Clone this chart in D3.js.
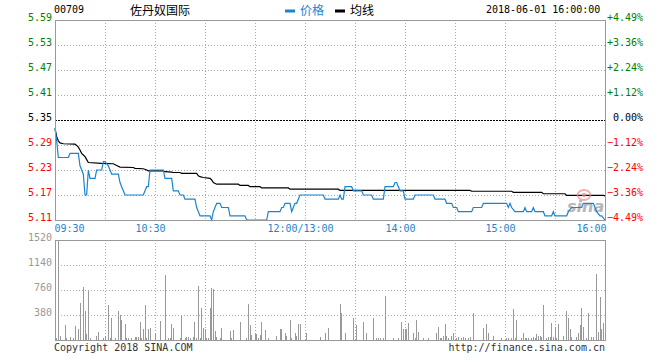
<!DOCTYPE html>
<html><head><meta charset="utf-8">
<script src="https://cdn.jsdelivr.net/npm/d3@7/dist/d3.min.js"></script>
<style>
html,body{margin:0;padding:0;background:#fff;}
svg{display:block;}
text{font-family:"DejaVu Sans Mono",monospace;font-size:10px;}
.cjk{font-family:"Noto Sans CJK SC",sans-serif;font-size:12px;}
</style></head>
<body>
<svg id="c" width="660" height="360"></svg>
<script>
// ---------- data ----------
const stockCode = "00709";
const stockName = "佐丹奴国际";
const stamp = "2018-06-01 16:00:00";
const preClose = 5.35;
const priceTicks = [5.59,5.53,5.47,5.41,5.35,5.29,5.23,5.17,5.11];
const volTicks = [1520,1140,760,380];
const timeTicks = [0,60,150,210,270,330];
const timeLabels = ["09:30","10:30","12:00/13:00","14:00","15:00","16:00"];
const gridMinutes = [30,60,90,120,150,180,210,240,270,300];

// price line (minute index, price)
const priceMin = [0,1,2,8,9,14,15,16,17,18,19,20,21,24,25,28,29,30,32,33,34,38,39,40,41,42,53,54,55,56,57,65,66,70,71,74,75,77,78,84,85,86,87,93,94,95,97,99,100,104,105,114,115,127,128,135,136,137,138,141,142,143,144,145,146,147,161,162,170,171,172,173,174,178,179,184,185,190,191,197,198,203,204,205,206,207,209,210,215,216,227,228,234,235,238,239,241,242,250,251,256,257,271,272,273,274,276,281,282,283,286,287,288,293,294,298,299,300,307,308,310,316,317,323,324,325,327,328,330];
const priceVal = [5.33,5.30,5.26,5.26,5.27,5.27,5.24,5.23,5.22,5.17,5.17,5.23,5.21,5.21,5.23,5.23,5.25,5.25,5.24,5.23,5.22,5.22,5.20,5.19,5.18,5.17,5.17,5.18,5.19,5.19,5.23,5.23,5.21,5.21,5.18,5.18,5.17,5.17,5.16,5.16,5.14,5.13,5.12,5.12,5.11,5.13,5.15,5.15,5.14,5.14,5.12,5.12,5.11,5.11,5.13,5.13,5.14,5.14,5.15,5.15,5.13,5.14,5.15,5.15,5.16,5.17,5.17,5.16,5.16,5.17,5.16,5.16,5.19,5.19,5.18,5.18,5.17,5.17,5.16,5.16,5.19,5.19,5.20,5.20,5.19,5.18,5.18,5.16,5.16,5.17,5.17,5.16,5.16,5.15,5.15,5.14,5.14,5.13,5.13,5.14,5.14,5.15,5.15,5.14,5.15,5.14,5.13,5.13,5.14,5.13,5.13,5.14,5.13,5.13,5.12,5.12,5.13,5.12,5.12,5.13,5.14,5.14,5.15,5.15,5.14,5.13,5.12,5.12,5.11];

// average line (minute index, price)
const avgMin = [0,1,2,3,5,12,13,14,15,16,17,18,19,20,28,35,37,39,47,48,53,55,56,65,66,70,71,75,76,85,86,87,89,93,94,95,97,110,111,116,117,123,124,140,141,170,171,249,250,274,275,292,293,306,307,329,330];
const avgVal = [5.33,5.31,5.30,5.295,5.293,5.292,5.289,5.285,5.278,5.270,5.266,5.262,5.255,5.248,5.246,5.245,5.241,5.237,5.236,5.234,5.233,5.230,5.228,5.228,5.226,5.225,5.224,5.224,5.222,5.222,5.216,5.214,5.212,5.210,5.206,5.200,5.196,5.196,5.193,5.193,5.190,5.190,5.187,5.187,5.184,5.184,5.181,5.181,5.179,5.179,5.1765,5.1765,5.173,5.173,5.169,5.169,5.168];

// volume (minute index, volume)
const volMin = [1,2,3,6,7,9,11,12,14,15,17,18,19,20,21,25,26,29,30,32,33,34,36,38,39,40,42,43,44,46,48,49,50,51,52,53,54,55,56,57,60,63,66,68,69,70,71,75,76,78,79,80,81,83,84,85,86,87,88,89,90,91,92,93,94,95,96,97,99,100,105,106,107,111,115,116,117,118,120,121,122,123,124,126,128,133,135,136,138,139,141,142,144,145,146,147,151,159,162,164,171,172,174,179,181,185,187,191,193,194,195,197,198,203,206,208,209,210,211,212,215,216,217,218,221,224,229,230,231,232,233,234,235,236,238,239,241,242,244,245,246,248,249,251,257,259,260,263,268,271,272,274,275,276,277,280,281,282,283,284,286,287,288,289,290,291,292,293,295,296,297,298,299,300,301,302,305,307,308,309,310,313,314,315,316,317,319,320,322,323,325,326,327,328,329,330];
const volVal = [30,1510,60,228,25,40,25,210,170,560,810,440,91,760,25,60,120,25,60,532,25,335,25,445,375,304,243,25,25,25,40,40,45,270,30,167,527,25,167,180,91,289,988,25,25,243,182,25,365,30,40,40,25,40,279,30,821,30,481,177,167,25,30,491,790,770,130,40,30,185,130,25,150,274,30,550,230,70,91,91,30,80,274,150,25,60,160,170,106,60,304,30,106,60,243,243,106,45,106,182,547,410,106,340,228,274,106,340,30,30,30,30,669,30,30,274,172,172,172,263,106,30,304,122,30,30,106,203,30,30,60,243,60,30,60,106,30,50,30,50,30,30,50,410,182,243,106,60,30,30,30,30,471,30,304,30,106,30,30,30,30,45,30,91,60,60,45,532,30,45,45,263,45,203,30,243,60,440,340,167,50,45,106,228,486,203,30,410,45,45,1003,122,654,172,263,440];

// ---------- drawing ----------
const svg = d3.select("#c");
const L = 55, R = 605, PT = 20, PB = 220, VT = 240, VB = 340;
const BLUE = "#1b84d0", GREEN = "#008000", RED = "#ff0000", GRAY = "#999";

const x = d3.scaleLinear().domain([0,330]).range([L,R]);
const y = d3.scaleLinear().domain([5.11,5.59]).range([PB,PT]);
const yv = d3.scaleLinear().domain([0,1520]).range([VB,VT]);

const colorFor = v => Math.abs(v-preClose) < 1e-9 ? "#000" : (v > preClose ? GREEN : RED);

// grid
const g = svg.append("g").attr("shape-rendering","crispEdges");
priceTicks.filter(v => v !== preClose && v !== 5.59 && v !== 5.11).forEach(v => {
  g.append("line").attr("x1",L).attr("x2",R).attr("y1",Math.round(y(v))+0.5).attr("y2",Math.round(y(v))+0.5)
    .attr("stroke","#aaa").attr("stroke-dasharray","1,2");
});
gridMinutes.forEach(m => {
  const xx = Math.round(x(m))+0.5;
  g.append("line").attr("x1",xx).attr("x2",xx).attr("y1",PT).attr("y2",PB).attr("stroke","#aaa").attr("stroke-dasharray","1,2");
  g.append("line").attr("x1",xx).attr("x2",xx).attr("y1",VT).attr("y2",VB).attr("stroke","#aaa").attr("stroke-dasharray","1,2");
});
volTicks.filter(v => v !== 1520).forEach(v => {
  g.append("line").attr("x1",L).attr("x2",R).attr("y1",Math.round(yv(v))+0.5).attr("y2",Math.round(yv(v))+0.5)
    .attr("stroke","#aaa").attr("stroke-dasharray","1,2");
});
g.append("line").attr("x1",L).attr("x2",R).attr("y1",Math.round(y(preClose))+0.5).attr("y2",Math.round(y(preClose))+0.5)
  .attr("stroke","#000").attr("stroke-dasharray","2,1");

// volume bars
const vols = volMin.map((m,i) => ({m, v: volVal[i]}));
svg.append("g").attr("shape-rendering","crispEdges").selectAll("rect").data(vols).enter().append("rect")
  .attr("x", d => Math.floor(x(d.m)))
  .attr("width", 1)
  .attr("y", d => yv(d.v))
  .attr("height", d => VB - yv(d.v))
  .attr("fill", GRAY);

// lines
const avg = avgMin.map((m,i) => ({m, p: avgVal[i]}));
const price = priceMin.map((m,i) => ({m, p: priceVal[i]}));
const line = d3.line().x(d => x(d.m)).y(d => y(d.p));
svg.append("path").datum(avg).attr("d",line).attr("fill","none").attr("stroke","#000").attr("stroke-width",1.2);

// watermark
const wm = svg.append("g").attr("opacity",0.7);
wm.append("ellipse").attr("cx",584).attr("cy",195).attr("rx",6.5).attr("ry",5).attr("fill","none").attr("stroke","#f08a8a").attr("stroke-width",1.8);
wm.append("circle").attr("cx",584).attr("cy",195).attr("r",2.2).attr("fill","#f08a8a");
wm.append("text").attr("x",567).attr("y",212)
  .style("font-family","'DejaVu Sans',sans-serif").style("font-size","16px")
  .style("font-style","italic").style("font-weight","bold").style("fill","#999").text("sina");

svg.append("path").datum(price).attr("d",line).attr("fill","none").attr("stroke",BLUE).attr("stroke-width",1.2);

// frames
const f = svg.append("g").attr("shape-rendering","crispEdges").attr("fill","none").attr("stroke",GRAY);
f.append("path").attr("d",`M${L+0.5},${PB+0.5}V${PT+0.5}H${R+0.5}V${PB+0.5}`);
f.append("line").attr("x1",L).attr("x2",R+1).attr("y1",PB+0.5).attr("y2",PB+0.5).attr("stroke-width",1.5);
f.append("rect").attr("x",L+0.5).attr("y",VT+0.5).attr("width",R-L).attr("height",VB-VT);

// axes
const ax = svg.append("g").attr("transform",`translate(${L},0)`)
  .call(d3.axisLeft(y).tickValues(priceTicks).tickSize(0).tickPadding(3).tickFormat(d3.format(".2f")));
ax.select(".domain").remove();
ax.selectAll("text").attr("dy","0.5").attr("fill", d => colorFor(d));

const pctFmt = d => { const p = (d - preClose)/preClose*100; return (Math.abs(p)<1e-9 ? "" : (p>0?"+":"")) + d3.format(".2f")(p) + "%"; };
const ar = svg.append("g").attr("transform",`translate(${R},0)`)
  .call(d3.axisRight(y).tickValues(priceTicks).tickSize(0).tickFormat(pctFmt));
ar.select(".domain").remove();
ar.selectAll("text").attr("dy","0.5").attr("x",38).attr("text-anchor","end").attr("fill", d => colorFor(d));

const av = svg.append("g").attr("transform",`translate(${L},0)`)
  .call(d3.axisLeft(yv).tickValues(volTicks).tickSize(0).tickPadding(3).tickFormat(d3.format("d")));
av.select(".domain").remove();
av.selectAll("text").attr("dy","0.5").attr("fill",GRAY);

const at = svg.append("g").attr("transform",`translate(0,${PB})`)
  .call(d3.axisBottom(x).tickValues(timeTicks).tickSize(0).tickFormat((d,i) => timeLabels[i]));
at.select(".domain").remove();
at.selectAll("text").attr("y",11.5).attr("dy","0").attr("fill",BLUE)
  .attr("text-anchor",(d,i) => i===0 ? "start" : (i===timeTicks.length-1 ? "end" : "middle"))
  .attr("x",(d,i) => i===0 ? -1 : (i===timeTicks.length-1 ? 1 : -5));

// header
svg.append("text").attr("x",54).attr("y",12.5).attr("fill","#000").text(stockCode);
svg.append("text").attr("class","cjk").attr("x",130).attr("y",15).attr("fill","#000").text(stockName);
svg.append("rect").attr("x",285).attr("y",9.5).attr("width",10).attr("height",3).attr("fill",BLUE);
svg.append("text").attr("class","cjk").attr("x",300).attr("y",15).attr("fill",BLUE).text("价格");
svg.append("rect").attr("x",335).attr("y",9.5).attr("width",10).attr("height",3).attr("fill","#000");
svg.append("text").attr("class","cjk").attr("x",350).attr("y",15).attr("fill","#000").text("均线");
svg.append("text").attr("x",486).attr("y",12.5).attr("fill","#000").text(stamp);

// footer
svg.append("text").attr("x",54).attr("y",351).attr("fill","#333").text("Copyright 2018 SINA.COM");
svg.append("text").attr("x",605).attr("y",351).attr("text-anchor","end").attr("fill","#333").text("http://finance.sina.com.cn");
</script>
</body></html>
